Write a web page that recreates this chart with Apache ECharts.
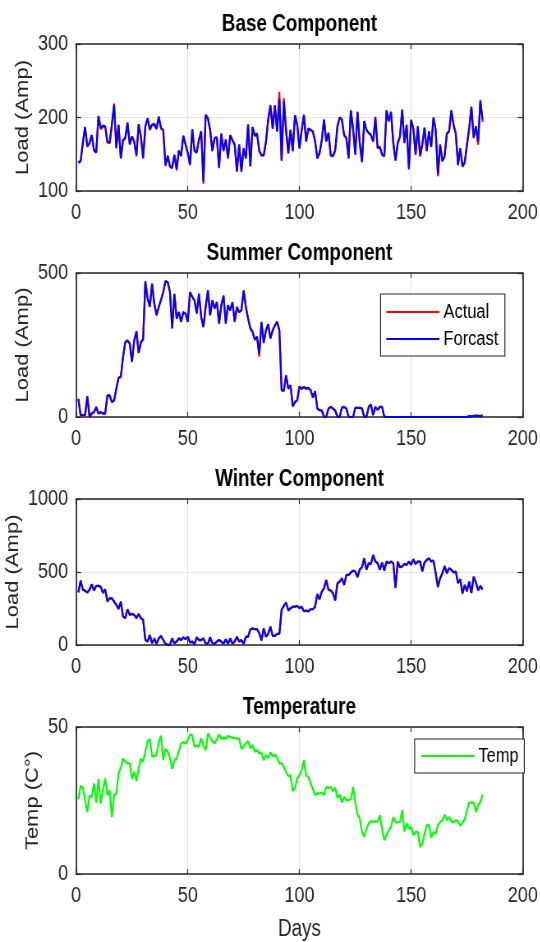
<!DOCTYPE html>
<html><head><meta charset="utf-8">
<script src="https://cdn.jsdelivr.net/npm/echarts@6/dist/echarts.min.js"></script>
<style>
html,body{margin:0;padding:0;background:#fff;overflow:hidden;width:540px;height:942px}
#wrap{width:540px;height:942px;overflow:hidden;position:relative}
#c{width:658.5px;height:942px;transform:scaleX(0.82);transform-origin:0 0;position:absolute;left:0;top:0}
</style>
</head><body><div id="wrap"><div id="c"></div></div>
<script>
// ---- data (days 1..182) ----
const baseActual = [138,140,165,187,160,165,176,155,152,202,184,187,188,166,165,190,219,158,190,144,
169,172,193,163,174,167,147,191,174,144,188,199,183,190,191,184,201,185,183,134,
148,133,131,149,128,155,147,175,163,151,135,184,154,152,170,181,110,204,199,183,
154,172,173,131,178,154,170,144,176,169,163,126,163,126,158,144,191,133,187,175,
178,154,148,148,167,197,217,185,217,181,235,141,226,183,151,183,154,203,190,158,
183,204,167,185,183,181,167,144,151,169,197,167,179,148,147,155,188,200,197,176,
172,144,210,185,149,208,165,139,195,183,179,176,167,201,158,160,149,147,210,195,
208,165,141,165,174,211,165,190,129,197,185,149,188,147,163,186,154,181,160,200,
183,120,163,140,147,178,181,210,190,178,135,158,133,138,163,185,215,172,188,163,
224,194];
const baseForecast = [139,141,165,187,161,165,176,156,153,202,186,189,188,167,166,190,217,159,190,145,
169,172,193,164,174,167,149,191,174,145,188,199,184,190,191,185,201,186,183,135,
148,134,132,149,130,155,148,175,163,152,136,184,155,153,170,181,113,203,199,183,
155,172,173,132,178,155,170,145,176,169,163,127,163,127,158,145,190,134,187,175,
178,155,149,149,167,197,216,185,216,181,226,142,222,183,152,183,155,203,190,158,
183,203,168,185,183,181,168,145,152,169,197,168,179,149,148,155,188,200,197,176,
172,145,209,185,150,207,165,140,195,183,179,176,168,200,159,160,150,148,209,195,
207,166,142,165,174,210,166,190,131,197,185,150,188,148,163,186,155,181,160,200,
183,123,163,141,148,178,181,209,190,178,136,158,134,139,163,185,214,173,188,167,
222,197];

const summerActual = [64,6,6,6,72,0,12,17,35,12,17,12,12,75,75,52,58,98,137,139,
208,260,266,255,191,266,298,222,260,270,472,411,382,463,393,353,382,407,434,472,
469,434,307,428,341,364,330,364,359,330,434,417,405,359,428,347,312,382,440,353,
405,376,399,324,388,422,324,388,370,399,330,382,364,370,440,382,341,307,295,268,
278,210,330,257,301,322,272,301,318,330,301,93,90,145,98,110,37,52,58,106,
98,104,98,101,93,67,90,29,23,23,0,0,29,35,29,23,0,0,32,35,
29,0,0,0,32,32,32,29,0,0,35,44,6,35,25,35,35,0,0,0,
0,0,0,0,0,0,0,0,0,0,0,0,0,0,0,0,0,0,0,0,
0,0,0,0,0,0,0,0,0,0,0,0,0,0,0,3,3,4,5,4,
3,6];
const summerForecast = [62,7,6,6,71,1,12,17,34,12,17,12,12,74,75,52,58,98,136,139,
207,259,266,255,193,265,297,223,259,270,470,412,383,462,393,354,382,407,433,471,
468,434,309,427,342,364,331,364,359,331,433,417,405,360,427,348,313,382,439,354,
405,377,399,325,388,421,325,388,370,398,331,382,364,370,438,382,342,308,296,269,
279,220,329,258,301,322,273,301,318,330,302,95,91,144,99,110,38,52,58,105,
98,104,98,101,93,68,90,30,24,23,1,0,29,35,29,23,1,0,32,35,
29,1,0,0,32,32,32,29,1,0,35,43,7,35,25,35,35,1,0,0,
0,0,0,0,0,0,0,0,0,0,0,0,0,0,0,0,0,0,0,0,
0,0,0,0,0,0,0,0,0,0,0,0,0,0,0,2,2,3,4,4,
3,5];

const winterActual = [359,442,378,371,359,378,416,373,405,405,400,355,382,297,320,320,297,275,245,297,
194,183,245,206,213,206,183,213,183,172,34,23,69,11,46,7,46,62,34,7,
0,0,46,11,23,46,34,53,39,57,16,23,5,53,34,34,46,11,7,53,
11,7,23,34,23,7,39,7,46,7,23,57,23,34,7,57,57,108,114,108,
108,80,30,114,57,76,126,62,62,76,76,240,268,291,236,252,263,263,268,252,
263,229,236,229,245,245,263,350,313,366,389,446,378,373,355,304,423,435,458,412,
480,480,496,510,503,464,519,533,595,515,561,556,618,572,561,515,565,510,572,561,
572,561,389,572,533,538,556,549,572,549,588,556,572,572,503,565,583,595,572,579,
492,396,458,492,542,492,526,515,496,503,423,451,350,412,366,435,355,469,428,373,
405,378];
const winterForecast = [362,440,380,372,360,378,414,374,404,405,399,357,381,299,320,320,298,276,247,296,
196,185,244,207,213,207,185,212,185,174,36,24,68,12,45,8,45,61,35,8,
1,1,45,12,24,45,34,52,40,56,17,24,6,52,34,34,45,12,8,52,
12,8,24,34,24,8,38,8,45,8,24,56,24,34,8,56,56,107,113,108,
108,81,32,113,58,76,125,63,63,76,77,242,268,290,238,252,262,263,267,252,
262,231,236,231,245,245,262,348,314,365,388,444,378,373,356,306,422,434,456,413,
479,480,495,509,503,466,518,532,592,516,560,556,612,572,560,516,564,511,571,560,
571,560,393,570,533,538,555,549,571,550,586,556,571,571,505,564,582,593,572,578,
493,400,457,491,540,493,525,515,497,503,425,450,355,411,370,433,358,466,428,378,
404,382];

const tempValues = [25.4,30.0,29.3,25.1,21.1,26.6,26.2,30.8,24.3,32.3,24.0,28.5,32.5,26.8,28.5,19.4,26.8,27.4,34.2,36.1,
39.3,38.2,37.6,37.6,32.3,34.8,31.6,35.9,39.3,38.2,41.8,45.2,45.9,39.9,40.2,40.4,45.0,47.0,38.7,42.5,
41.6,39.5,35.7,38.7,39.3,41.6,44.4,44.8,44.4,45.6,47.5,47.0,43.3,43.6,43.3,46.1,43.8,42.1,47.8,46.4,
45.2,44.4,45.9,47.5,45.9,46.4,45.9,47.0,46.6,46.4,46.1,46.1,46.1,42.5,43.3,44.4,45.2,42.7,43.8,41.6,
42.1,41.0,41.4,38.7,40.4,39.5,41.4,39.9,40.7,39.5,37.6,37.6,36.5,34.5,33.4,33.4,28.2,29.3,32.5,33.6,
35.3,38.7,33.4,33.1,30.8,28.9,26.8,27.4,27.4,27.7,26.8,29.6,29.3,29.6,28.2,29.3,25.9,27.0,24.3,26.2,
25.1,25.1,25.4,29.6,24.3,20.2,18.9,14.3,12.6,15.4,17.2,17.9,17.9,17.7,17.9,20.0,15.4,11.5,13.2,14.9,
16.0,19.4,17.7,17.5,17.7,21.7,14.5,17.2,15.4,16.0,13.2,14.3,14.3,9.2,10.3,13.7,16.6,16.6,12.3,14.3,
13.7,16.6,17.7,18.3,20.2,18.3,19.4,17.9,17.5,18.3,17.9,16.4,17.5,18.6,21.7,24.3,24.3,24.3,21.1,23.4,
24.5,27.0];

const days = baseActual.map((_, i) => i + 1);
const titles = ['Base Component', 'Summer Component', 'Winter Component', 'Temperature'];
const yLabels = ['Load (Amp)', 'Load (Amp)', 'Load (Amp)', 'Temp (C\u00B0)'];
const yMins = [100, 0, 0, 0];
const yMaxs = [300, 500, 1000, 50];
const yIntervals = [100, 500, 500, 50];
const xTicks = {min: 0, max: 200, interval: 50};

// ---- chart (drawn 1/0.82 wider, then squeezed horizontally like the source figure) ----
const S = 0.82;
const FONT = "'Liberation Sans',Arial,Helvetica,sans-serif";
const AX = '#262626';
const tops = [44, 273, 499, 727];
const heights = [147, 144, 146, 147];
const ylabelX = [23, 23, 13, 33];
const px = v => v / S;  // screen x -> pre-squeeze x

const pts = arr => arr.map((v, i) => [days[i], v]);

const grid = tops.map((t, i) => ({left: px(76), right: px(18), top: t, height: heights[i]}));
const xAxis = [], yAxis = [];
tops.forEach((t, i) => {
  const lineS = {show: true, onZero: false, lineStyle: {color: AX, width: 1.7}};
  const tickX = {show: true, inside: true, length: 5, lineStyle: {color: AX, width: 1.2}};
  const tickY = {show: true, inside: true, length: px(5), lineStyle: {color: AX, width: 1.2}};
  xAxis.push({gridIndex: i, type: 'value', position: 'bottom', min: xTicks.min, max: xTicks.max, interval: xTicks.interval,
    axisLine: lineS, axisTick: tickX,
    axisLabel: {color: AX, fontFamily: FONT, fontSize: 22, margin: 11, formatter: v => String(v)},
    splitLine: {show: true, lineStyle: {color: '#e3e3e3', width: 1.2}}});
  xAxis.push({gridIndex: i, type: 'value', position: 'top', min: xTicks.min, max: xTicks.max, interval: xTicks.interval,
    axisLine: lineS, axisTick: tickX, axisLabel: {show: false}, splitLine: {show: false}});
  yAxis.push({gridIndex: i, type: 'value', position: 'left', min: yMins[i], max: yMaxs[i], interval: yIntervals[i],
    axisLine: lineS, axisTick: tickY,
    axisLabel: {color: AX, fontFamily: FONT, fontSize: 22, margin: px(8), formatter: v => String(v)},
    splitLine: {show: true, lineStyle: {color: '#e3e3e3', width: 1}}});
  yAxis.push({gridIndex: i, type: 'value', position: 'right', min: yMins[i], max: yMaxs[i], interval: yIntervals[i],
    axisLine: lineS, axisTick: tickY, axisLabel: {show: false}, splitLine: {show: false}});
});

function line(name, data, gi, color) {
  return {name, type: 'line', xAxisIndex: gi * 2, yAxisIndex: gi * 2, data: pts(data),
    symbol: 'none', showSymbol: false, clip: true, animation: false,
    lineStyle: {color, width: 2.2}, itemStyle: {color}};
}
const series = [
  line('Actual', baseActual, 0, '#ff0000'), line('Forcast', baseForecast, 0, '#0000ff'),
  line('Actual', summerActual, 1, '#ff0000'), line('Forcast', summerForecast, 1, '#0000ff'),
  line('Actual', winterActual, 2, '#ff0000'), line('Forcast', winterForecast, 2, '#0000ff'),
  line('Temp', tempValues, 3, '#00ff00')
];

const ctr = {align: 'center', verticalAlign: 'middle', textAlign: 'center', textVerticalAlign: 'middle'};
const graphic = [];
titles.forEach((t, i) => {
  graphic.push({type: 'text', x: px(299), y: tops[i] - 19, silent: true,
    style: Object.assign({text: t, fontFamily: FONT, fontWeight: 'bold', fontSize: 23, fill: '#000'}, ctr)});
  graphic.push({type: 'text', x: px(ylabelX[i]), y: tops[i] + heights[i] / 2, rotation: Math.PI / 2, silent: true,
    style: Object.assign({text: yLabels[i], fontFamily: FONT, fontSize: 22, fill: AX}, ctr)});
});
graphic.push({type: 'text', x: px(299), y: 930, silent: true,
  style: Object.assign({text: 'Days', fontFamily: FONT, fontSize: 23, fill: AX}, ctr)});

const legendBase = {orient: 'vertical', icon: 'rect', itemWidth: px(53), itemHeight: 2, itemGap: 7,
  borderColor: AX, borderWidth: 1.2, backgroundColor: '#fff', borderRadius: 0,
  textStyle: {color: '#000', fontFamily: FONT, fontSize: 20}, selectedMode: false};

const chart = echarts.init(document.getElementById('c'), null, {renderer: 'canvas', width: 658.5, height: 942});
chart.setOption({
  animation: false,
  backgroundColor: '#fff',
  grid, xAxis, yAxis, series, graphic,
  legend: [
    Object.assign({}, legendBase, {data: ['Actual', 'Forcast'], left: px(380), top: 294, padding: [8, 8, 7, 7]}),
    Object.assign({}, legendBase, {data: ['Temp'], left: px(414), top: 739, padding: [7, 7, 7, 8]})
  ]
});
</script></body></html>
